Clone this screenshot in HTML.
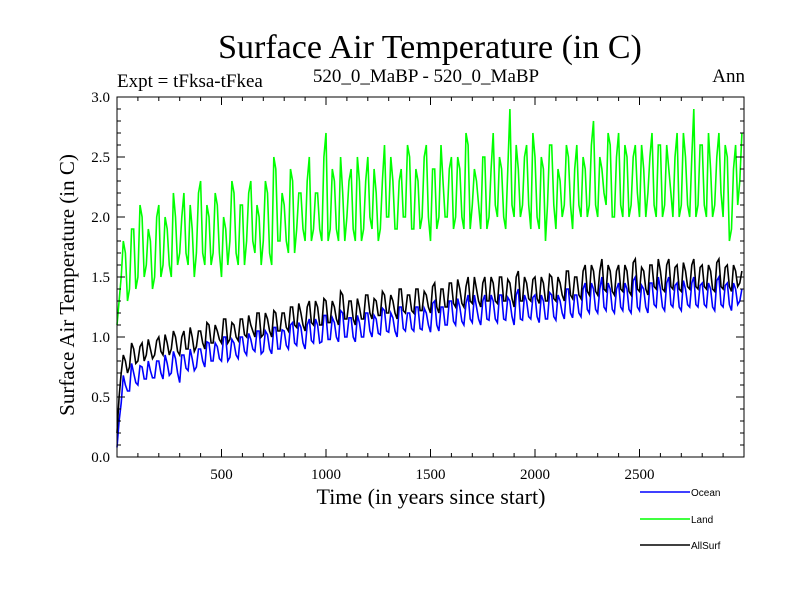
<!DOCTYPE html>
<html><head><meta charset="utf-8"><style>
body{margin:0;background:#fff}
svg text{font-family:"Liberation Serif",serif;fill:#000}
</style></head><body>
<svg id="chart" width="800" height="600" xmlns="http://www.w3.org/2000/svg">
<text x="430" y="58" font-size="34" text-anchor="middle">Surface Air Temperature (in C)</text>
<text x="117" y="87" font-size="19">Expt = tFksa-tFkea</text>
<text x="426" y="82" font-size="19" text-anchor="middle">520_0_MaBP - 520_0_MaBP</text>
<text x="745" y="82" font-size="19" text-anchor="end">Ann</text>
<text x="431" y="504" font-size="22" text-anchor="middle">Time (in years since start)</text>
<text x="0" y="0" font-size="21" text-anchor="middle" transform="translate(74,285) rotate(-90)">Surface Air Temperature (in C)</text>
<g id="series"></g>
<g id="axes"></g>
<g>
<line x1="640" y1="492" x2="690" y2="492" stroke="#0000ff" stroke-width="1.5"/>
<text x="691" y="496" font-size="10" style="font-family:'Liberation Sans',sans-serif">Ocean</text>
<line x1="640" y1="519" x2="690" y2="519" stroke="#00ff00" stroke-width="1.5"/>
<text x="691" y="523" font-size="10" style="font-family:'Liberation Sans',sans-serif">Land</text>
<line x1="640" y1="545" x2="690" y2="545" stroke="#000" stroke-width="1.5"/>
<text x="691" y="549" font-size="10" style="font-family:'Liberation Sans',sans-serif">AllSurf</text>
</g>
</svg>
<script>
const yearStep = 20;
// values at years 0,20,40,...
const land = [1.1,1.5,1.7,1.4,1.9,1.5,2.0,1.6,1.8,1.5,
2.1,1.6,1.9,1.5,2.0,1.7,2.2,1.6,1.9,1.7,
2.3,1.6,2.0,1.7,2.1,1.5,1.9,1.8,2.2,1.6,
2.1,1.8,2.3,1.7,2.0,1.8,2.2,1.6,2.4,1.8,
2.1,1.7,2.3,1.9,2.2,1.8,2.5,1.9,2.2,1.8,
2.7,1.9,2.3,1.8,2.2,2.0,2.4,1.8,2.3,1.9,
2.5,1.9,2.2,1.9,2.6,2.0,2.3,1.9,2.4,2.0,
2.5,1.9,2.3,2.0,2.6,1.8,2.4,2.0,2.3,2.0,
2.5,2.0,2.4,1.9,2.6,2.1,2.3,1.9,2.5,2.0,
2.7,2.0,2.4,1.9,2.9,2.0,2.4,2.1,2.6,1.9,
2.5,1.9,2.4,2.1,2.6,1.9,2.3,2.1,2.5,1.9,
2.6,2.0,2.4,2.1,2.8,2.0,2.4,2.1,2.6,2.0,
2.7,2.0,2.5,2.1,2.6,2.0,2.4,2.2,2.7,2.0,
2.6,2.1,2.4,2.0,2.7,2.1,2.5,2.0,2.9,2.1,
2.6,2.0,2.4,2.1,2.7,2.0,2.5,1.9,2.6,2.3];
// values at years 10,30,50,...
const landMid = [1.3,1.8,1.3,1.9,1.4,2.1,1.5,1.9,1.4,2.0,
1.5,2.0,1.6,2.2,1.6,2.0,1.7,2.1,1.5,2.2,
1.7,2.1,1.6,2.2,1.7,2.0,1.6,2.3,1.7,2.1,
1.6,2.2,1.8,2.1,1.6,2.3,1.7,2.5,1.8,2.2,
1.8,2.4,1.7,2.2,1.9,2.3,1.8,2.2,1.9,2.5,
1.8,2.4,1.9,2.5,1.8,2.3,1.9,2.5,1.8,2.3,
2.0,2.4,1.8,2.3,2.0,2.5,1.9,2.3,2.0,2.6,
1.9,2.4,1.9,2.5,2.0,2.4,1.9,2.6,2.0,2.4,
1.9,2.5,2.0,2.7,1.9,2.4,2.1,2.5,1.9,2.4,
2.1,2.5,2.0,2.4,2.1,2.6,2.0,2.5,2.1,2.7,
2.0,2.5,1.8,2.6,2.1,2.4,2.0,2.6,2.1,2.4,
2.1,2.5,2.0,2.6,2.1,2.5,2.2,2.7,2.0,2.5,
2.1,2.6,2.0,2.5,2.2,2.6,2.0,2.5,2.1,2.6,
2.0,2.6,2.2,2.5,2.0,2.7,2.1,2.5,2.0,2.6,
2.1,2.7,2.0,2.5,2.2,2.6,1.8,2.4,2.1,2.7];
const allSurf = [0.2,0.7,0.8,0.75,0.9,0.8,0.95,0.85,0.9,0.85,
1.0,0.85,0.95,0.9,1.0,0.85,1.05,0.9,1.0,0.92,
1.05,0.9,1.1,0.95,1.05,0.95,1.15,0.98,1.1,0.97,
1.15,1.0,1.1,1.0,1.2,1.02,1.15,1.0,1.2,1.05,
1.2,1.05,1.25,1.08,1.2,1.05,1.3,1.1,1.25,1.1,
1.3,1.12,1.25,1.1,1.35,1.15,1.3,1.1,1.25,1.15,
1.35,1.15,1.3,1.18,1.35,1.2,1.3,1.15,1.4,1.2,
1.35,1.2,1.4,1.22,1.35,1.2,1.45,1.2,1.4,1.25,
1.45,1.25,1.4,1.25,1.5,1.28,1.4,1.25,1.5,1.3,
1.45,1.28,1.5,1.3,1.45,1.25,1.55,1.3,1.45,1.3,
1.5,1.28,1.45,1.3,1.5,1.3,1.45,1.3,1.55,1.32,
1.5,1.32,1.6,1.35,1.55,1.35,1.65,1.38,1.55,1.35,
1.6,1.38,1.55,1.35,1.65,1.38,1.55,1.35,1.6,1.4,
1.55,1.38,1.65,1.4,1.6,1.38,1.55,1.4,1.65,1.4,
1.6,1.4,1.55,1.38,1.65,1.4,1.6,1.38,1.55,1.45];
const allSurfMid = [0.5,0.85,0.7,0.95,0.78,0.92,0.8,0.98,0.82,0.97,
0.88,1.02,0.85,1.05,0.88,1.0,0.9,1.08,0.88,1.05,
0.95,1.12,0.95,1.1,0.98,1.15,0.95,1.12,1.0,1.15,
1.02,1.18,1.05,1.2,1.0,1.2,1.05,1.22,1.05,1.2,
1.08,1.25,1.1,1.28,1.1,1.25,1.12,1.3,1.1,1.32,
1.12,1.3,1.15,1.38,1.15,1.3,1.15,1.32,1.15,1.35,
1.2,1.32,1.18,1.38,1.2,1.35,1.2,1.4,1.22,1.35,
1.22,1.4,1.22,1.38,1.25,1.42,1.25,1.4,1.25,1.45,
1.28,1.48,1.28,1.42,1.3,1.5,1.3,1.45,1.3,1.5,
1.3,1.5,1.3,1.48,1.32,1.5,1.3,1.5,1.32,1.48,
1.32,1.5,1.3,1.52,1.32,1.5,1.35,1.55,1.35,1.5,
1.35,1.55,1.38,1.6,1.38,1.55,1.4,1.6,1.38,1.55,
1.4,1.6,1.38,1.62,1.4,1.58,1.4,1.6,1.42,1.65,
1.4,1.6,1.42,1.58,1.4,1.62,1.42,1.6,1.42,1.58,
1.42,1.6,1.4,1.62,1.42,1.58,1.42,1.6,1.42,1.55];
const ocean = [0.08,0.45,0.6,0.55,0.7,0.6,0.75,0.65,0.72,0.66,
0.8,0.65,0.78,0.7,0.82,0.62,0.85,0.72,0.82,0.75,
0.9,0.75,0.95,0.8,0.92,0.8,1.0,0.83,0.95,0.82,
1.0,0.85,0.98,0.88,1.05,0.88,1.02,0.86,1.08,0.9,
1.05,0.9,1.12,0.93,1.08,0.9,1.15,0.95,1.1,0.96,
1.18,0.98,1.12,0.96,1.2,1.0,1.16,0.96,1.12,1.0,
1.2,1.0,1.15,1.02,1.22,1.04,1.16,1.0,1.25,1.05,
1.2,1.05,1.25,1.06,1.2,1.04,1.3,1.05,1.25,1.1,
1.3,1.1,1.25,1.1,1.35,1.12,1.25,1.1,1.35,1.14,
1.3,1.12,1.35,1.14,1.3,1.1,1.4,1.14,1.3,1.15,
1.35,1.12,1.3,1.15,1.35,1.14,1.3,1.15,1.4,1.16,
1.35,1.17,1.45,1.2,1.4,1.2,1.5,1.22,1.4,1.2,
1.45,1.22,1.4,1.2,1.5,1.22,1.4,1.2,1.45,1.25,
1.4,1.22,1.5,1.25,1.45,1.22,1.4,1.25,1.5,1.25,
1.45,1.25,1.4,1.22,1.5,1.25,1.45,1.22,1.4,1.3];
const oceanMid = [0.3,0.68,0.55,0.78,0.62,0.76,0.65,0.8,0.66,0.8,
0.7,0.85,0.68,0.88,0.7,0.85,0.74,0.9,0.72,0.9,
0.8,0.96,0.8,0.95,0.82,1.0,0.8,0.98,0.85,1.0,
0.88,1.03,0.9,1.05,0.86,1.05,0.9,1.08,0.9,1.06,
0.93,1.1,0.95,1.12,0.95,1.1,0.97,1.15,0.95,1.18,
0.98,1.16,1.0,1.22,1.0,1.16,1.0,1.18,1.0,1.2,
1.05,1.18,1.03,1.24,1.05,1.2,1.05,1.25,1.07,1.2,
1.07,1.25,1.07,1.24,1.1,1.28,1.1,1.25,1.1,1.3,
1.13,1.32,1.13,1.28,1.15,1.35,1.15,1.3,1.15,1.35,
1.15,1.35,1.15,1.33,1.17,1.35,1.15,1.35,1.17,1.33,
1.17,1.35,1.15,1.37,1.17,1.35,1.2,1.4,1.2,1.35,
1.2,1.4,1.23,1.45,1.23,1.4,1.25,1.45,1.23,1.4,
1.25,1.45,1.23,1.47,1.25,1.43,1.25,1.45,1.27,1.5,
1.25,1.45,1.27,1.43,1.25,1.47,1.27,1.45,1.27,1.43,
1.27,1.45,1.25,1.47,1.27,1.43,1.27,1.45,1.27,1.4];
const xTicks = [500,1000,1500,2000,2500];
const yTicks = [0.0,0.5,1.0,1.5,2.0,2.5,3.0];

const X0=117,X1=744,Y0=457,Y1=97,XMAX=3000,YMAX=3;
const xs=v=>X0+(v/XMAX)*(X1-X0);
const ys=v=>Y0-(v/YMAX)*(Y0-Y1);
const NS="http://www.w3.org/2000/svg";
const sg=document.getElementById('series'), ag=document.getElementById('axes');
function mk(tag,attrs,parent){const e=document.createElementNS(NS,tag);for(const k in attrs)e.setAttribute(k,attrs[k]);parent.appendChild(e);return e;}
function line(a,b,color,name){
  const pts=[];
  a.forEach((v,i)=>{
    pts.push(xs(i*yearStep).toFixed(1)+','+ys(v).toFixed(1));
    if(i<b.length) pts.push(xs(i*yearStep+yearStep/2).toFixed(1)+','+ys(b[i]).toFixed(1));
  });
  const p=mk('polyline',{points:pts.join(' '),fill:'none',stroke:color,'stroke-width':1.6,'stroke-linejoin':'miter'},sg);
  
  
}
line(land,landMid,'#00ff00','land-series');
line(ocean,oceanMid,'#0000ff','ocean-series');
line(allSurf,allSurfMid,'#000000','allsurf-series');
const fr=mk('rect',{x:X0,y:Y1,width:X1-X0,height:Y0-Y1,fill:'none',stroke:'#000','stroke-width':1},ag);


for(let v=100;v<XMAX;v+=100){
  const x=xs(v),L=(v%500===0)?8:4;
  mk('line',{x1:x,y1:Y0,x2:x,y2:Y0-L,stroke:'#000'},ag);
  mk('line',{x1:x,y1:Y1,x2:x,y2:Y1+L,stroke:'#000'},ag);
}
for(let i=1;i<30;i++){
  const y=ys(i/10),L=(i%5===0)?8:4;
  mk('line',{x1:X0,y1:y,x2:X0+L,y2:y,stroke:'#000'},ag);
  mk('line',{x1:X1,y1:y,x2:X1-L,y2:y,stroke:'#000'},ag);
}
xTicks.forEach(v=>{
  const t=mk('text',{x:xs(v),y:Y0+22,'font-size':15,'text-anchor':'middle'},ag);
  t.textContent=v;
  
  
});
yTicks.forEach(v=>{
  const t=mk('text',{x:X0-7,y:ys(v)+5,'font-size':15,'text-anchor':'end'},ag);
  t.textContent=v.toFixed(1);
  
  
});
</script>
</body></html>
